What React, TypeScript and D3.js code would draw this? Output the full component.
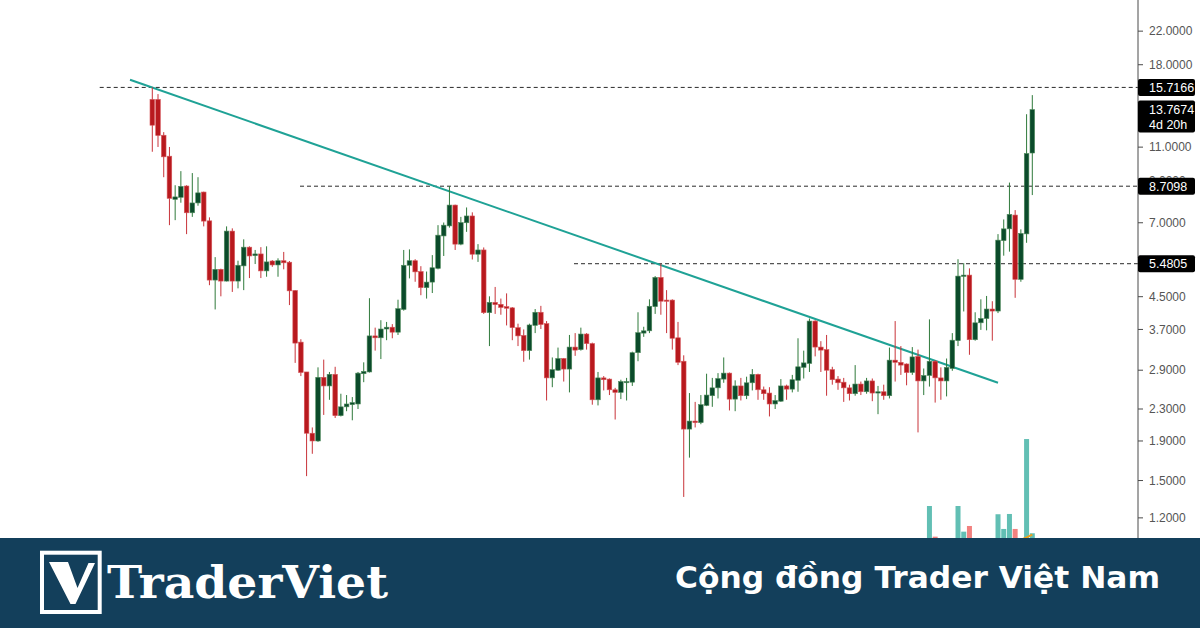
import React from 'react';
import * as d3 from 'd3';

const W = 1200;
const H = 628;

const open = [14.63,14.63,11.81,10.42,8.05,8.15,8.72,7.43,7.88,8.41,7.08,4.97,5.30,4.94,6.66,4.94,5.41,6.05,5.75,5.81,5.25,5.57,5.44,5.58,5.53,4.67,3.43,2.87,1.99,1.90,2.78,2.64,2.83,2.21,2.33,2.36,2.37,2.84,2.87,3.56,3.52,3.71,3.75,3.64,4.17,5.43,5.58,5.23,4.75,4.91,5.33,6.47,6.87,7.78,6.16,7.00,7.29,5.80,5.95,4.09,4.35,4.30,4.24,4.21,3.74,3.57,3.26,3.79,4.10,3.83,2.77,2.90,3.11,2.92,3.33,3.28,3.60,3.40,2.43,2.77,2.75,2.58,2.54,2.70,2.70,3.22,3.62,3.67,4.24,5.05,4.41,4.41,3.52,3.06,2.04,2.14,2.12,2.35,2.49,2.61,2.75,2.85,2.44,2.64,2.49,2.69,2.83,2.58,2.53,2.37,2.41,2.64,2.59,2.73,2.95,3.02,3.89,3.33,3.28,2.91,2.75,2.70,2.61,2.52,2.67,2.55,2.72,2.53,2.55,2.49,3.08,3.04,3.01,2.86,3.15,2.72,2.81,3.06,2.77,2.72,2.93,3.46,5.08,5.12,3.48,3.85,3.95,4.18,4.13,6.29,6.75,7.33,4.99,6.55,10.62];
const high = [15.72,15.10,12.03,11.01,8.76,9.53,8.76,9.42,9.19,8.43,7.23,5.70,5.32,6.85,6.77,5.58,6.34,6.08,5.95,6.05,6.08,5.60,5.66,5.88,5.57,4.68,3.49,2.87,2.06,2.95,3.09,2.87,2.96,2.52,2.50,2.47,2.87,3.04,4.46,3.74,3.91,3.87,3.82,4.42,5.95,5.97,5.63,5.40,5.23,5.77,6.90,7.01,8.71,7.80,7.25,7.67,7.45,6.16,6.04,4.51,4.77,4.45,4.59,4.23,3.83,3.70,3.83,4.18,4.26,3.89,3.13,3.32,3.12,3.58,3.62,3.74,3.62,3.42,2.87,2.80,2.76,2.61,2.74,2.77,3.24,4.10,3.76,4.43,5.09,5.48,4.68,4.43,3.87,3.17,2.53,2.40,2.50,2.84,2.77,2.85,3.13,2.86,2.73,2.77,2.79,2.92,2.84,2.63,2.62,2.50,2.75,2.66,2.82,3.51,3.26,3.95,3.91,3.45,3.58,2.96,2.80,2.77,2.66,2.99,2.71,2.77,2.76,2.64,2.66,3.32,3.89,3.35,3.02,3.33,3.28,2.93,3.93,3.08,2.95,3.11,3.62,5.63,5.50,5.33,4.10,4.43,4.52,4.38,6.54,7.14,8.90,7.55,6.73,13.39,15.01];
const low = [10.70,11.01,9.19,6.90,7.11,7.89,6.54,7.25,7.75,6.85,4.82,4.17,4.51,4.93,4.63,4.73,4.68,5.03,5.47,5.03,5.07,5.38,5.07,5.30,4.28,3.03,2.80,1.54,1.76,1.89,2.22,2.43,2.18,2.20,2.27,2.15,2.30,2.70,2.86,3.26,3.10,3.47,3.51,3.58,4.14,5.02,4.92,4.54,4.45,4.60,5.30,5.74,6.80,5.95,6.12,6.63,5.62,5.54,4.06,3.35,4.06,4.04,3.79,3.47,3.35,3.05,3.09,3.62,3.71,2.42,2.62,2.89,2.71,2.54,3.16,3.26,3.28,2.36,2.35,2.57,2.50,2.16,2.44,2.42,2.64,3.06,3.54,3.62,4.06,4.04,3.62,3.28,2.99,1.36,1.72,2.06,2.10,2.34,2.33,2.45,2.69,2.28,2.27,2.42,2.44,2.57,2.43,2.43,2.20,2.30,2.40,2.43,2.54,2.55,2.76,2.87,3.15,2.87,2.49,2.66,2.58,2.40,2.42,2.49,2.50,2.52,2.41,2.23,2.43,2.45,2.71,2.82,2.65,2.82,2.00,2.50,2.63,2.39,2.43,2.48,2.89,3.35,4.12,3.18,3.46,3.69,3.68,3.46,4.08,5.75,5.89,4.47,4.92,6.21,8.26];
const close = [12.54,11.79,10.38,8.10,8.17,8.70,7.43,7.88,8.37,7.07,4.97,5.30,4.94,6.66,4.94,5.43,6.05,5.74,5.81,5.25,5.54,5.44,5.58,5.51,4.66,3.41,2.86,1.99,1.90,2.78,2.64,2.83,2.21,2.33,2.37,2.39,2.85,2.88,3.56,3.52,3.71,3.75,3.64,4.19,5.43,5.58,5.22,4.75,4.91,5.35,6.50,6.90,7.78,6.16,7.01,7.29,5.80,5.95,4.09,4.35,4.29,4.22,4.20,3.74,3.56,3.26,3.80,4.10,3.81,2.77,2.91,3.11,2.92,3.33,3.27,3.60,3.40,2.43,2.77,2.74,2.58,2.54,2.71,2.71,3.22,3.63,3.67,4.25,5.05,4.38,4.38,3.51,3.04,2.04,2.14,2.12,2.36,2.50,2.61,2.76,2.85,2.44,2.64,2.49,2.69,2.83,2.58,2.52,2.37,2.42,2.64,2.59,2.74,2.96,3.03,3.89,3.33,3.27,2.90,2.74,2.69,2.61,2.52,2.67,2.55,2.72,2.53,2.55,2.49,3.08,3.04,2.99,2.86,3.14,2.72,2.81,3.06,2.77,2.72,2.95,3.47,5.09,5.12,3.48,3.85,3.95,4.18,4.13,6.31,6.75,7.36,4.99,6.57,10.59,13.7674];

// volume for the last candles (starting at candle index volStart)
const volStart = 135;
const volume = [8,43.7,21,10,12,15,43.7,24.7,28.9,12,14,16,15,37.6,26.7,37.8,26.7,18,93.3,23.5];
const volMAStart = 151;
const volMA = [17,18.5,20.5,22.5];

const axisTicks = [22, 18, 11, 7, 4.5, 3.7, 2.9, 2.3, 1.9, 1.5, 1.2];
const hiddenTick = 9;
const levelPrices = [15.7166, 8.7098, 5.4805];
const levelStarts = [-9.2, 25.85, 73.8];
const trendIdx = [-3.9, 148];
const trendPrice = [16.45, 2.69];
const lastPrice = 13.7674;
const countdown = '4d 20h';

const AXIS_X = 1138;
const CHART_BOTTOM = 538;

export default function App() {
  const x = d3.scaleLinear().domain([0, 154]).range([152.3, 1032.3]);
  const y = d3.scaleLog().domain([26.5, 1.064]).range([0, CHART_BOTTOM]);
  const yv = d3.scaleLinear().domain([0, 100]).range([565, 430]);
  const bw = 4.6;

  const trendLine = d3.line<number>()
    .x((_, i) => x(trendIdx[i]))
    .y((p) => y(p))(trendPrice);

  const maLine = d3.line<number>()
    .x((_, i) => x(volMAStart + i))
    .y((v) => yv(v))
    .curve(d3.curveMonotoneX)(volMA);

  const fmt = (v: number) => v.toFixed(4);
  const boxTop8 = y(levelPrices[1]) - 8.5;

  return (
    <div style={{ position: 'absolute', left: 0, top: 0, width: W, height: H }}>
      <svg width={W} height={H} style={{ display: 'block', fontFamily: '"Liberation Sans", Arial, sans-serif' }}>
        <defs>
          <clipPath id="hidClip">
            <rect x={AXIS_X} y={0} width={62} height={boxTop8} />
          </clipPath>
        </defs>
        <rect x={0} y={0} width={W} height={H} fill="#ffffff" />

        {/* horizontal levels */}
        {levelPrices.map((p, i) => (
          <line key={'lv' + i} x1={x(levelStarts[i])} x2={AXIS_X} y1={y(p)} y2={y(p)}
            stroke="#2a2a2a" strokeWidth={1} strokeDasharray="4 3" />
        ))}

        {/* volume */}
        {volume.map((v, i) => {
          const idx = volStart + i;
          const up = close[idx] >= open[idx];
          return (
            <rect key={'v' + i} x={x(idx) - 2.5} width={5} y={yv(v)} height={yv(0) - yv(v)}
              fill={up ? '#62bfb4' : '#f2817f'} />
          );
        })}
        <path d={maLine || ''} fill="none" stroke="#f3a018" strokeWidth={2} />

        {/* trendline */}
        <path d={trendLine || ''} fill="none" stroke="#1fa296" strokeWidth={2} />

        {/* candles */}
        {open.map((o, i) => {
          const c = close[i];
          const up = c >= o;
          const cx = x(i);
          const top = y(Math.max(o, c));
          const bot = y(Math.min(o, c));
          return (
            <g key={'c' + i}>
              <line x1={cx} x2={cx} y1={y(high[i])} y2={y(low[i])}
                stroke={up ? '#2f7a3b' : '#c8343a'} strokeWidth={1} />
              <rect x={cx - bw / 2} y={top} width={bw} height={Math.max(1.2, bot - top)}
                fill={up ? '#0b4b2b' : '#b8191e'}
                stroke={up ? '#4f8a5c' : '#d6575b'} strokeWidth={0.6} />
            </g>
          );
        })}

        {/* price axis */}
        <line x1={AXIS_X} x2={AXIS_X} y1={0} y2={CHART_BOTTOM} stroke="#4a4a4a" strokeWidth={1} />
        {axisTicks.map((t) => (
          <g key={'t' + t}>
            <line x1={AXIS_X} x2={AXIS_X + 5} y1={y(t)} y2={y(t)} stroke="#4a4a4a" strokeWidth={1} />
            <text x={AXIS_X + 11} y={y(t)} dy="0.35em" fontSize={12} fill="#555">{fmt(t)}</text>
          </g>
        ))}
        <g clipPath="url(#hidClip)">
          <text x={AXIS_X + 11} y={y(hiddenTick)} dy="0.35em" fontSize={12} fill="#555">{fmt(hiddenTick)}</text>
        </g>

        {/* level labels */}
        {levelPrices.map((p, i) => (
          <g key={'ll' + i}>
            <rect x={AXIS_X} y={y(p) - 8.5} width={57} height={17} rx={2} fill="#000" />
            <text x={AXIS_X + 11} y={y(p)} dy="0.35em" fontSize={12.5} fill="#fff">{fmt(p)}</text>
          </g>
        ))}
        <g>
          <rect x={AXIS_X} y={y(lastPrice) - 9} width={57} height={32} rx={2} fill="#000" />
          <text x={AXIS_X + 11} y={y(lastPrice)} dy="0.35em" fontSize={12.5} fill="#fff">{fmt(lastPrice)}</text>
          <text x={AXIS_X + 11} y={y(lastPrice) + 15} dy="0.35em" fontSize={12.5} fill="#fff">{countdown}</text>
        </g>

        {/* footer */}
        <rect x={0} y={CHART_BOTTOM} width={W} height={H - CHART_BOTTOM} fill="#133f5b" />
        <rect x={42} y={552.7} width={57.7} height={59.3} fill="none" stroke="#fff" strokeWidth={4} />
        <path d="M49,562 L68,562 L77.5,588 L88.5,563 L95,563 L75.5,604 L70.5,604 Z" fill="#fff" />
        <text x={107} y={598} fontFamily='"DejaVu Serif", serif' fontWeight={700} fontSize={44}
          textLength={281} lengthAdjust="spacingAndGlyphs" fill="#fff">TraderViet</text>
        <text x={675} y={588} fontFamily='"DejaVu Sans", sans-serif' fontWeight={700} fontSize={31}
          textLength={485} lengthAdjust="spacingAndGlyphs" fill="#fff">Cộng đồng Trader Việt Nam</text>
      </svg>
    </div>
  );
}
